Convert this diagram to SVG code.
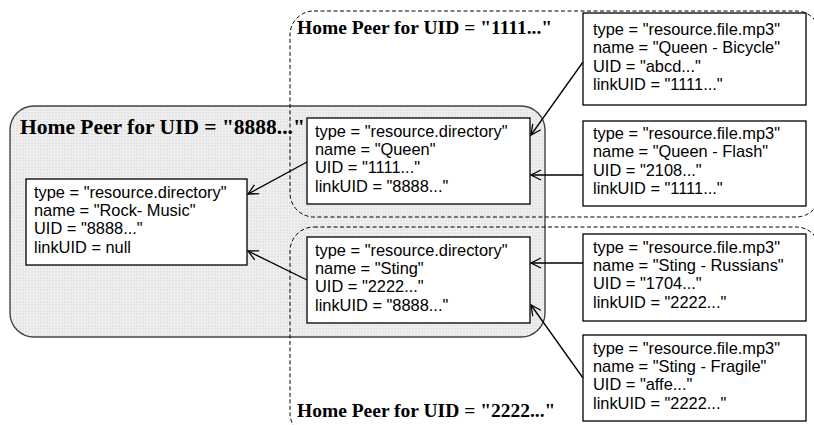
<svg xmlns="http://www.w3.org/2000/svg" width="814" height="425" viewBox="0 0 814 425">
  <style>
    .box { fill: #ffffff; stroke: #000000; stroke-width: 1.3; }
    .t { font-family: "Liberation Sans", Arial, sans-serif; font-size: 16.4px; fill: #000; }
    .title { font-family: "Liberation Serif", "Times New Roman", serif; font-size: 19.5px; font-weight: bold; fill: #000; }
    .peer { fill: none; stroke: #000; stroke-width: 1; stroke-dasharray: 4 2.5; }
    .conn { fill: none; stroke: #000; stroke-width: 1.3; marker-end: url(#arr); }
  </style>
  <defs>
    <pattern id="grid" width="3" height="3" patternUnits="userSpaceOnUse">
      <rect width="3" height="3" fill="#e4e4e4"/>
      <path d="M0,0.5 H3 M0.5,0 V3" stroke="#f0f0f0" stroke-width="1"/>
    </pattern>
    <marker id="arr" markerWidth="14" markerHeight="14" refX="12" refY="7" orient="auto" markerUnits="userSpaceOnUse">
      <path d="M2,2 L12,7 L2,12" fill="none" stroke="#000" stroke-width="1.3"/>
    </marker>
  </defs>

  <g id="peer-8888">
    <rect x="10" y="106" width="535" height="231" rx="24" ry="24" fill="url(#grid)" stroke="#444" stroke-width="1.4"/>
    <text class="title" x="20" y="134" style="font-size:21.5px">Home Peer for UID = "8888..."</text>
  </g>

  <g id="peer-1111">
    <rect class="peer" x="290" y="11" width="530" height="206" rx="24" ry="24"/>
    <text class="title" x="297" y="34">Home Peer for UID = "1111..."</text>
  </g>

  <g id="peer-2222">
    <rect class="peer" x="290" y="227" width="530" height="210" rx="24" ry="24"/>
    <text class="title" x="297" y="417">Home Peer for UID = "2222..."</text>
  </g>

  <g id="node-rock">
    <rect class="box" x="26" y="179" width="221" height="86"/>
    <text class="t" x="34" y="197.5"><tspan x="34">type = "resource.directory"</tspan><tspan x="34" dy="18.4">name = "Rock- Music"</tspan><tspan x="34" dy="18.4">UID = "8888..."</tspan><tspan x="34" dy="18.4">linkUID = null</tspan></text>
  </g>

  <g id="node-queen">
    <rect class="box" x="307" y="118" width="223" height="86"/>
    <text class="t" x="315" y="136.5"><tspan x="315">type = "resource.directory"</tspan><tspan x="315" dy="18.4">name = "Queen"</tspan><tspan x="315" dy="18.4">UID = "1111..."</tspan><tspan x="315" dy="18.4">linkUID = "8888..."</tspan></text>
  </g>

  <g id="node-sting">
    <rect class="box" x="307" y="237" width="223" height="86"/>
    <text class="t" x="315" y="255.5"><tspan x="315">type = "resource.directory"</tspan><tspan x="315" dy="18.4">name = "Sting"</tspan><tspan x="315" dy="18.4">UID = "2222..."</tspan><tspan x="315" dy="18.4">linkUID = "8888..."</tspan></text>
  </g>

  <g id="node-bicycle">
    <rect class="box" x="583" y="13" width="223" height="92"/>
    <text class="t" x="593" y="35"><tspan x="593">type = "resource.file.mp3"</tspan><tspan x="593" dy="18.4">name = "Queen - Bicycle"</tspan><tspan x="593" dy="18.4">UID = "abcd..."</tspan><tspan x="593" dy="18.4">linkUID = "1111..."</tspan></text>
  </g>

  <g id="node-flash">
    <rect class="box" x="583" y="121" width="223" height="85"/>
    <text class="t" x="593" y="139"><tspan x="593">type = "resource.file.mp3"</tspan><tspan x="593" dy="18.4">name = "Queen - Flash"</tspan><tspan x="593" dy="18.4">UID = "2108..."</tspan><tspan x="593" dy="18.4">linkUID = "1111..."</tspan></text>
  </g>

  <g id="node-russians">
    <rect class="box" x="583" y="234" width="223" height="87"/>
    <text class="t" x="593" y="252.5"><tspan x="593">type = "resource.file.mp3"</tspan><tspan x="593" dy="18.4">name = "Sting - Russians"</tspan><tspan x="593" dy="18.4">UID = "1704..."</tspan><tspan x="593" dy="18.4">linkUID = "2222..."</tspan></text>
  </g>

  <g id="node-fragile">
    <rect class="box" x="583" y="335" width="223" height="86"/>
    <text class="t" x="593" y="353.5"><tspan x="593">type = "resource.file.mp3"</tspan><tspan x="593" dy="18.4">name = "Sting - Fragile"</tspan><tspan x="593" dy="18.4">UID = "affe..."</tspan><tspan x="593" dy="18.4">linkUID = "2222..."</tspan></text>
  </g>

  <g id="connectors">
    <path class="conn" d="M307,162 L248,194"/>
    <path class="conn" d="M307,280 L248,251"/>
    <path class="conn" d="M583,62 L531,135"/>
    <path class="conn" d="M583,175 L531,175"/>
    <path class="conn" d="M583,263 L531,263"/>
    <path class="conn" d="M583,378 L531,305"/>
  </g>
</svg>
